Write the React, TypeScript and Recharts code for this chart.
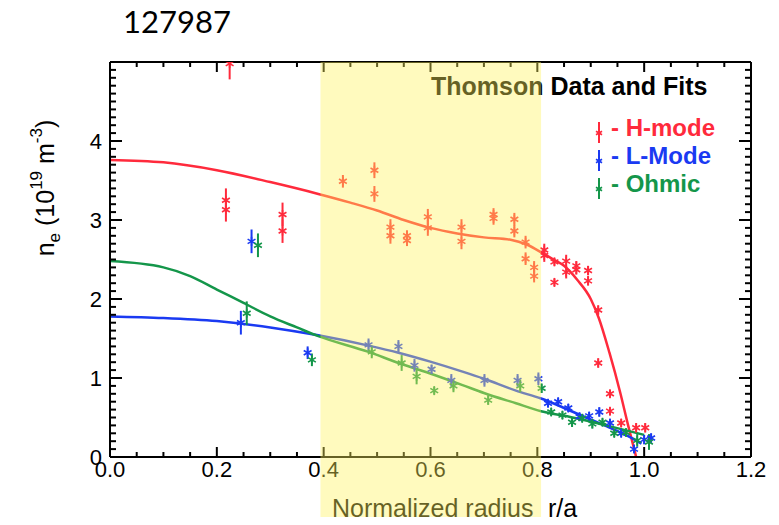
import { ComposedChart, Line, Scatter, ErrorBar, XAxis, YAxis, ReferenceArea } from 'recharts'

const W = 779
const H = 525
const FONT = 'Liberation Sans, Arial, Helvetica, sans-serif'
const RED = '#ff2a3c'
const BLUE = '#1a3af2'
const GREEN = '#14964a'

// axis ticks
const X_MAJOR = [0, 0.2, 0.4, 0.6, 0.8, 1.0, 1.2]
const Y_MAJOR = [0, 1, 2, 3, 4, 5]
const Y_LABELED = [0, 1, 2, 3, 4]
const X_TICKS = X_MAJOR.flatMap((v, i) => (i === 0 ? [v] : [1, 2, 3, 4].map(k => X_MAJOR[i - 1] + k * 0.05)))
const Y_TICKS = Y_MAJOR.flatMap((v, i) => (i === 0 ? [v] : [1, 2, 3, 4, 5, 6, 7, 8, 9, 10].map(k => Y_MAJOR[i - 1] + k * 0.1)))

// Thomson data: H-mode
const hR = [0.224, 0.217, 0.217, 0.323, 0.323, 0.436, 0.495, 0.495, 0.525, 0.525, 0.556, 0.556, 0.595, 0.595,
  0.658, 0.658, 0.718, 0.718, 0.757, 0.757, 0.778, 0.778, 0.794, 0.794, 0.813, 0.813, 0.832, 0.832, 0.854, 0.854,
  0.873, 0.873, 0.895, 0.895, 0.914, 0.914, 0.936, 0.936, 0.957, 0.985, 1.002]
const hNe = [4.98, 3.25, 3.13, 3.07, 2.86, 3.49, 3.63, 3.33, 2.91, 2.80, 2.80, 2.74, 3.04, 2.90,
  2.91, 2.73, 3.07, 3.02, 3.01, 2.86, 2.72, 2.51, 2.40, 2.29, 2.62, 2.55, 2.47, 2.21, 2.48, 2.34,
  2.42, 2.37, 2.36, 2.23, 1.86, 1.19, 0.80, 0.58, 0.43, 0.37, 0.37]
const hErr: (number | number[])[] = [[0.2, 0.02], 0.15, 0.15, 0.15, 0.15, 0.08, 0.1, 0.1, 0.1, 0.1, 0.07, 0.07, 0.1, 0.1,
  0.1, 0.1, 0.08, 0.08, 0.08, 0.08, 0.08, 0.08, 0.08, 0.08, 0.08, 0.08, 0.05, 0.05, 0.08, 0.08,
  0.06, 0.06, 0.06, 0.06, 0.06, 0.06, 0.05, 0.05, 0.05, 0.06, 0.06]

// L-mode
const lR = [0.265, 0.245, 0.370, 0.484, 0.540, 0.570, 0.602, 0.639, 0.701, 0.763, 0.802, 0.820, 0.839, 0.858,
  0.879, 0.897, 0.916, 0.936, 0.957, 0.981, 1.0, 1.013]
const lNe = [2.73, 1.70, 1.32, 1.42, 1.40, 1.16, 1.11, 0.97, 0.97, 0.97, 0.99, 0.68, 0.70, 0.62,
  0.51, 0.52, 0.57, 0.43, 0.30, 0.10, 0.22, 0.24]
const lErr = [0.15, 0.15, 0.08, 0.08, 0.08, 0.08, 0.06, 0.08, 0.08, 0.08, 0.08, 0.05, 0.05, 0.05,
  0.05, 0.05, 0.06, 0.05, 0.05, 0.05, 0.06, 0.06]

// Ohmic
const oR = [0.277, 0.256, 0.378, 0.490, 0.546, 0.574, 0.607, 0.643, 0.708, 0.768, 0.808, 0.826, 0.847, 0.865,
  0.884, 0.903, 0.922, 0.944, 0.966, 0.987, 1.009]
const oNe = [2.68, 1.82, 1.23, 1.33, 1.19, 1.02, 0.84, 0.90, 0.72, 0.90, 0.87, 0.57, 0.53, 0.44,
  0.49, 0.42, 0.44, 0.30, 0.31, 0.21, 0.19]
const oErr = [0.15, 0.15, 0.08, 0.08, 0.1, 0.1, 0.05, 0.08, 0.06, 0.08, 0.06, 0.05, 0.05, 0.06,
  0.05, 0.06, 0.05, 0.05, 0.05, 0.08, 0.1]

// fits
const hFitR = [0, 0.1, 0.2, 0.3, 0.39, 0.45, 0.5, 0.55, 0.6, 0.65, 0.7, 0.75, 0.78, 0.81, 0.83, 0.85, 0.875, 0.9, 0.915, 0.935, 0.955, 0.97, 0.985]
const hFitNe = [3.76, 3.73, 3.63, 3.48, 3.33, 3.22, 3.12, 3.0, 2.90, 2.83, 2.78, 2.75, 2.69, 2.58, 2.50, 2.42, 2.24, 2.0, 1.76, 1.32, 0.82, 0.40, 0.0]
const lFitR = [0, 0.1, 0.2, 0.3, 0.39, 0.484, 0.54, 0.598, 0.66, 0.7, 0.76, 0.807, 0.847, 0.884, 0.929, 0.959, 0.977, 0.995]
const lFitNe = [1.78, 1.76, 1.72, 1.64, 1.54, 1.41, 1.32, 1.21, 1.08, 0.99, 0.84, 0.74, 0.63, 0.52, 0.39, 0.30, 0.24, 0.17]
const oFitR = [0, 0.1, 0.15, 0.2, 0.25, 0.3, 0.35, 0.39, 0.484, 0.54, 0.598, 0.66, 0.7, 0.76, 0.807, 0.866, 0.929, 1.0]
const oFitNe = [2.48, 2.40, 2.29, 2.12, 1.95, 1.78, 1.64, 1.53, 1.33, 1.19, 1.06, 0.91, 0.81, 0.68, 0.58, 0.50, 0.40, 0.28]

const pts = (r: number[], ne: number[], err?: (number | number[])[]) =>
  r.map((v, i) => ({ r: v, ne: ne[i], err: err ? err[i] : 0 }))

const isMajor = (v: number, step: number) => Math.abs(v / step - Math.round(v / step)) < 1e-6

// inward tick marks, placed on the chart's scales as tiny series
const xTickMarks = (ne: number) => X_TICKS.map(v => ({ r: v, ne, major: isMajor(v, 0.2) }))
const yTickMarks = (r: number) => Y_TICKS.map(v => ({ r, ne: v, major: isMajor(v, 1) }))

const tickShape = (dirX: number, dirY: number, majorLen: number, minorLen: number) => (props: any) => {
  const { cx, cy } = props
  const major = props.major ?? props.payload?.major
  const len = major ? majorLen : minorLen
  return <line x1={cx} y1={cy} x2={cx + dirX * len} y2={cy + dirY * len} stroke="#000" strokeWidth={2} />
}

const star = (color: string, r = 4.5) => (props: any) => {
  const { cx, cy } = props
  const dx = r * 0.87
  const dy = r * 0.5
  return (
    <g stroke={color} strokeWidth={1.6}>
      <line x1={cx} y1={cy - r} x2={cx} y2={cy + r} />
      <line x1={cx - dx} y1={cy - dy} x2={cx + dx} y2={cy + dy} />
      <line x1={cx - dx} y1={cy + dy} x2={cx + dx} y2={cy - dy} />
    </g>
  )
}

const BottomLabel = (props: any) => {
  const { x, y, payload } = props
  if (!isMajor(payload.value, 0.2)) return <g />
  return (
    <text x={x} y={y + 20} textAnchor="middle" fontSize={22} fontFamily={FONT} fill="#000">
      {payload.value.toFixed(1)}
    </text>
  )
}

const LeftLabel = (props: any) => {
  const { x, y, payload } = props
  if (!Y_LABELED.some(v => Math.abs(v - payload.value) < 1e-6)) return <g />
  return (
    <text x={x - 8} y={y + 8} textAnchor="end" fontSize={22} fontFamily={FONT} fill="#000">
      {Math.round(payload.value)}
    </text>
  )
}

const legendItems = [
  { label: '- H-mode', color: RED },
  { label: '- L-Mode', color: BLUE },
  { label: '- Ohmic', color: GREEN },
]

const axisCommon = {
  type: 'number' as const,
  interval: 0 as const,
  allowDataOverflow: true,
  tickSize: 0,
  tickMargin: 0,
  tickLine: false,
  axisLine: { stroke: '#000', strokeWidth: 2 },
}

export default function App() {
  return (
    <div style={{ width: W, height: H, margin: -8 }}>
      <ComposedChart width={W} height={H} margin={{ top: 52, right: 18, bottom: 38, left: 80 }}>
        <XAxis {...axisCommon} xAxisId={0} dataKey="r" domain={[0, 1.2]} ticks={X_TICKS} height={30}
          tick={(p: any) => <BottomLabel {...p} />} />
        <XAxis {...axisCommon} xAxisId="top" orientation="top" dataKey="r" domain={[0, 1.2]} ticks={X_MAJOR} height={10}
          tick={false} />
        <YAxis {...axisCommon} yAxisId={0} domain={[0, 5]} ticks={Y_TICKS} width={30}
          tick={(p: any) => <LeftLabel {...p} />} />
        <YAxis {...axisCommon} yAxisId="right" orientation="right" domain={[0, 5]} ticks={Y_MAJOR} width={10}
          tick={false} />

        <Scatter data={xTickMarks(0)} dataKey="ne" shape={tickShape(0, -1, 10, 5)} isAnimationActive={false} />
        <Scatter data={xTickMarks(5)} dataKey="ne" shape={tickShape(0, 1, 10, 5)} isAnimationActive={false} />
        <Scatter data={yTickMarks(0)} dataKey="ne" shape={tickShape(1, 0, 12, 6)} isAnimationActive={false} />
        <Scatter data={yTickMarks(1.2)} dataKey="ne" shape={tickShape(-1, 0, 12, 6)} isAnimationActive={false} />

        <Line data={pts(hFitR, hFitNe)} dataKey="ne" type="monotone" stroke={RED} strokeWidth={2.5} dot={false} isAnimationActive={false} />
        <Line data={pts(lFitR, lFitNe)} dataKey="ne" type="monotone" stroke={BLUE} strokeWidth={2.5} dot={false} isAnimationActive={false} />
        <Line data={pts(oFitR, oFitNe)} dataKey="ne" type="monotone" stroke={GREEN} strokeWidth={2.5} dot={false} isAnimationActive={false} />

        <Scatter data={pts(hR, hNe, hErr)} dataKey="ne" shape={star(RED)} isAnimationActive={false}>
          <ErrorBar dataKey="err" direction="y" width={0} stroke={RED} strokeWidth={2} isAnimationActive={false} />
        </Scatter>
        <Scatter data={pts(lR, lNe, lErr)} dataKey="ne" shape={star(BLUE)} isAnimationActive={false}>
          <ErrorBar dataKey="err" direction="y" width={0} stroke={BLUE} strokeWidth={2} isAnimationActive={false} />
        </Scatter>
        <Scatter data={pts(oR, oNe, oErr)} dataKey="ne" shape={star(GREEN)} isAnimationActive={false}>
          <ErrorBar dataKey="err" direction="y" width={0} stroke={GREEN} strokeWidth={2} isAnimationActive={false} />
        </Scatter>

        <text x={123} y={33} fontSize={31} fontFamily="Lato, Noto Sans, sans-serif" fill="#000">127987</text>
        <text x={431} y={95} fontSize={25} fontWeight="bold" fontFamily={FONT} fill="#000">Thomson Data and Fits</text>
        {legendItems.map((it, i) => {
          const yb = 136 + i * 28
          return (
            <g key={it.label}>
              <line x1={599} x2={599} y1={yb - 14} y2={yb + 7} stroke={it.color} strokeWidth={2} />
              {star(it.color, 3.5)({ cx: 599, cy: yb - 3 })}
              <text x={611} y={yb} fontSize={24} fontWeight="bold" fontFamily={FONT} fill={it.color}>{it.label}</text>
            </g>
          )
        })}
        <text transform="translate(54,188) rotate(-90)" textAnchor="middle" fontSize={25} fontFamily={FONT} fill="#000">
          n<tspan fontSize={17} dy={6}>e</tspan>
          <tspan dy={-6}> (10</tspan>
          <tspan fontSize={17} dy={-12}>19</tspan>
          <tspan dy={12}> m</tspan>
          <tspan fontSize={17} dy={-12}>-3</tspan>
          <tspan dy={12}>)</tspan>
        </text>
        <text x={332} y={517} fontSize={25} fontFamily={FONT} fill="#000">Normalized radius</text>
        <text x={548} y={517} fontSize={25} fontFamily={FONT} fill="#000">r/a</text>

        <ReferenceArea
          x1={0.394}
          x2={0.807}
          zIndex={3000}
          shape={(p: any) => (
            <rect x={p.x} y={p.y} width={p.width} height={H - p.y} fill="rgb(255,242,92)" fillOpacity={0.4} />
          )}
        />
      </ComposedChart>
    </div>
  )
}
